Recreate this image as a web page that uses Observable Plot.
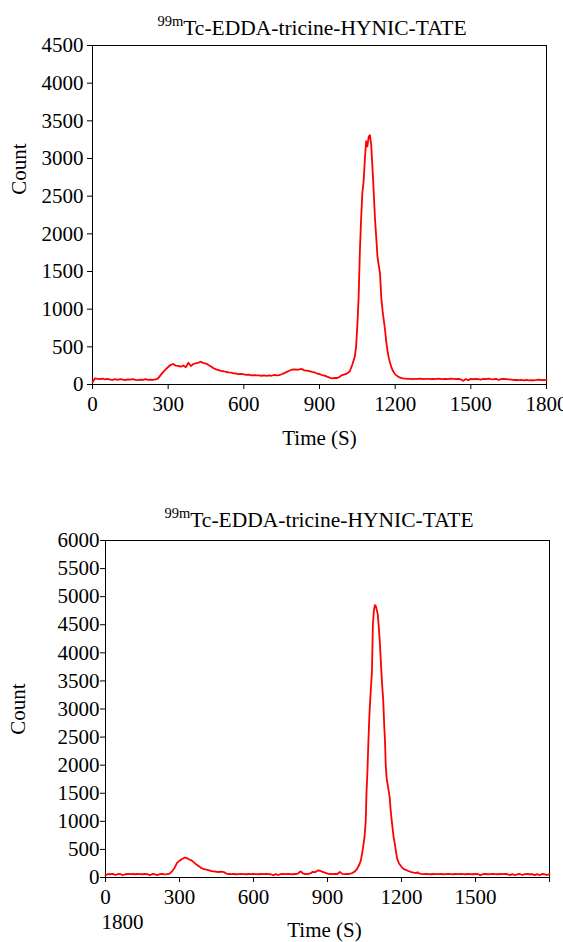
<!DOCTYPE html>
<html><head><meta charset="utf-8">
<script src="https://cdn.jsdelivr.net/npm/d3@7"></script>
<script src="https://cdn.jsdelivr.net/npm/@observablehq/plot@0.6"></script>
</head><body style="margin:0;background:#fff">
<div id="root" style="position:relative;width:563px;height:942px;overflow:hidden;background:#fff;font-family:'Liberation Serif',serif"></div>
<script>
const titleSup = "99m";
const titleText = "Tc-EDDA-tricine-HYNIC-TATE";
const xLabel = "Time (S)";
const yLabel = "Count";
const xTicks = [0, 300, 600, 900, 1200, 1500, 1800];
const yTicksTop = [0, 500, 1000, 1500, 2000, 2500, 3000, 3500, 4000, 4500];
const yTicksBottom = [0, 500, 1000, 1500, 2000, 2500, 3000, 3500, 4000, 4500, 5000, 5500, 6000];
const orphanLabel = "1800";

const timeTop = [0,10,20,30,40,50,60,70,80,90,100,110,120,130,140,150,160,170,180,190,200,210,220,230,240,250,260,270,280,290,300,310,320,330,340,350,360,370,380,390,400,410,420,430,440,450,460,470,480,490,500,510,520,530,540,550,560,570,580,590,600,610,620,630,640,650,660,670,680,690,700,710,720,730,740,750,760,770,780,790,800,810,820,830,840,850,860,870,880,890,900,910,920,930,940,950,960,970,980,990,1000,1010,1020,1030,1040,1045,1050,1055,1060,1065,1070,1075,1080,1085,1090,1095,1100,1105,1110,1115,1120,1125,1130,1135,1140,1145,1150,1155,1160,1165,1170,1175,1180,1185,1190,1195,1200,1210,1220,1230,1240,1250,1260,1270,1280,1290,1300,1310,1320,1330,1340,1350,1360,1370,1380,1390,1400,1410,1420,1430,1440,1450,1460,1470,1480,1490,1500,1510,1520,1530,1540,1550,1560,1570,1580,1590,1600,1610,1620,1630,1640,1650,1660,1670,1680,1690,1700,1710,1720,1730,1740,1750,1760,1770,1780,1790,1800];
const countTop = [30,82,76,70,78,68,74,66,60,70,62,70,66,58,68,64,72,62,58,66,60,70,62,64,60,68,82,125,165,200,232,262,272,250,248,236,252,228,288,246,272,282,290,302,284,278,258,240,216,200,192,180,176,166,160,158,148,146,138,140,134,128,130,122,124,120,122,116,120,114,122,116,126,120,124,136,150,168,182,196,202,196,200,206,188,184,176,168,162,146,138,126,118,104,92,80,88,86,102,126,134,148,176,262,370,500,780,1150,1760,2200,2550,2700,3000,3230,3160,3290,3310,3180,2880,2550,2200,1950,1690,1580,1470,1150,980,850,720,560,440,350,285,230,190,160,135,108,90,80,78,74,76,72,76,74,78,72,76,74,70,76,72,78,74,70,76,72,78,74,70,76,68,50,72,58,74,70,76,72,66,74,70,78,72,68,74,60,70,76,72,68,64,60,62,58,60,56,60,54,58,56,60,66,58,62,55];

const timeBottom = [0,10,20,30,40,50,60,70,80,90,100,110,120,130,140,150,160,170,180,190,200,210,220,230,240,250,260,270,280,290,300,310,320,330,340,350,360,370,380,390,400,410,420,430,440,450,460,470,480,490,500,510,520,530,540,550,560,570,580,590,600,610,620,630,640,650,660,670,680,690,700,710,720,730,740,750,760,770,780,790,800,810,820,830,840,850,860,870,880,890,900,910,920,930,940,950,960,970,980,990,1000,1010,1020,1030,1035,1040,1045,1050,1055,1058,1062,1066,1070,1075,1080,1084,1088,1092,1096,1100,1104,1108,1112,1118,1122,1126,1130,1133,1136,1140,1146,1152,1156,1162,1168,1173,1178,1182,1190,1200,1210,1220,1230,1240,1250,1260,1265,1270,1280,1290,1300,1310,1320,1330,1340,1350,1360,1370,1380,1390,1400,1410,1420,1430,1440,1450,1460,1470,1480,1490,1500,1510,1520,1530,1540,1550,1560,1570,1580,1590,1600,1610,1620,1630,1640,1650,1660,1670,1680,1690,1700,1710,1720,1730,1740,1750,1760,1770,1780,1790,1800];
const countBottom = [40,62,58,64,44,60,62,40,58,62,60,64,58,62,60,58,62,60,40,62,58,42,60,64,56,62,70,110,170,260,300,330,352,345,320,300,265,225,195,165,150,140,128,115,108,100,98,104,96,70,62,60,62,58,60,62,60,58,62,60,62,60,58,62,60,62,60,58,40,60,44,60,62,60,62,60,58,62,70,110,75,62,60,72,100,95,125,120,100,85,70,62,60,65,62,98,64,60,62,64,80,105,155,240,300,420,560,720,1000,1500,1900,2450,2900,3300,3650,4500,4750,4850,4830,4760,4680,4450,4200,3700,3400,3150,2700,2450,2000,1760,1600,1430,1200,950,720,600,450,340,250,190,150,130,112,95,85,80,95,72,64,60,62,60,58,62,60,60,62,58,60,62,60,58,62,60,62,60,58,62,60,58,62,60,40,60,62,58,60,62,60,58,62,60,62,58,42,60,40,58,62,44,60,62,58,60,42,60,40,62,58,44,60];

const FONT = "'Liberation Serif', serif";
const root = document.getElementById("root");

function addTitle(cx, baseline) {
  const d = document.createElement("div");
  d.style.cssText = "position:absolute;white-space:nowrap;font-family:'Liberation Serif',serif;font-size:21.5px;line-height:22px;color:#000;transform:translateX(-50%);";
  d.style.left = cx + "px";
  d.style.top = (baseline - 18.5) + "px";
  const s = document.createElement("span");
  s.style.cssText = "font-family:'Liberation Serif',serif;font-size:14.5px;position:relative;top:-9px;";
  s.textContent = titleSup;
  d.appendChild(s);
  d.appendChild(document.createTextNode(titleText));
  root.appendChild(d);
}

function chart(o) {
  const data = o.time.map((t, i) => ({t, c: o.count[i]}));
  const marks = [
    Plot.frame({stroke: "#000", strokeWidth: 1}),
    Plot.axisX({ticks: xTicks, tickSize: 5, tickPadding: o.xPad, label: null, fontSize: 21, fontFamily: FONT,
      tickFormat: o.xFormat || (d => String(d))}),
    Plot.axisY({ticks: o.yTicks, tickSize: 5, tickPadding: o.yPad, label: null, fontSize: 21, fontFamily: FONT,
      tickFormat: d => String(d)}),
    Plot.line(data, {x: "t", y: "c", stroke: "#ff0000", strokeWidth: 1.8}),
    Plot.text([yLabel], {text: d => d, frameAnchor: "left", textAnchor: "middle", lineAnchor: "middle", rotate: -90,
      dx: o.yLabDx, dy: o.yLabDy, fontSize: 21, fontFamily: FONT}),
    Plot.text([xLabel], {text: d => d, frameAnchor: "bottom", textAnchor: "middle", lineAnchor: "middle",
      dx: o.xLabDx, dy: o.xLabDy, fontSize: 21, fontFamily: FONT})
  ];
  if (o.orphan) marks.push(Plot.text([orphanLabel], {text: d => d, frameAnchor: "bottom-left", textAnchor: "middle", lineAnchor: "middle",
    dx: 17, dy: 45, fontSize: 21, fontFamily: FONT}));
  const svg = Plot.plot({
    width: 563, height: o.height,
    marginTop: o.mt, marginBottom: o.mb, marginLeft: o.ml, marginRight: o.mr,
    style: {fontFamily: FONT, fontSize: "21px", color: "#000", background: "transparent", overflow: "visible"},
    x: {domain: [0, 1800]},
    y: {domain: [0, o.yMax]},
    marks
  });
  svg.setAttribute("font-family", "Liberation Serif");
  svg.style.position = "absolute";
  svg.style.left = "0px";
  svg.style.top = o.top + "px";
  root.appendChild(svg);
}

addTitle(312, 35);
chart({time: timeTop, count: countTop, yTicks: yTicksTop, yMax: 4500, top: 0, height: 460,
  mt: 45, mb: 76, ml: 92, mr: 17, xPad: 7, yPad: 4, yLabDx: -73, yLabDy: -46, xLabDx: 0, xLabDy: 54});
addTitle(319, 527);
chart({time: timeBottom, count: countBottom, yTicks: yTicksBottom, yMax: 6000, top: 480, height: 462,
  mt: 60, mb: 65, ml: 105, mr: 14, xPad: 7, yPad: 1, yLabDx: -87, yLabDy: 0, xLabDx: -3, xLabDy: 53,
  xFormat: d => d === 1800 ? "" : String(d), orphan: true});
</script></body></html>
